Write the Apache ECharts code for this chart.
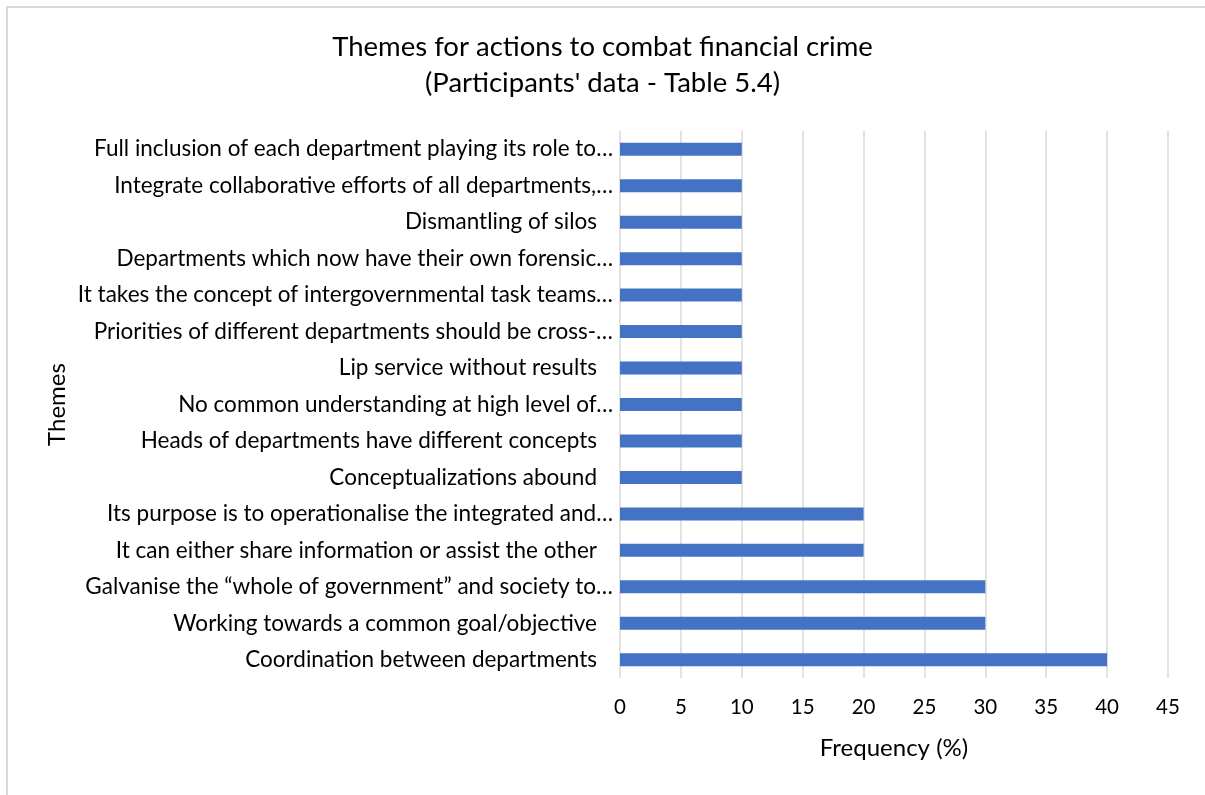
<!DOCTYPE html>
<html>
<head>
<meta charset="utf-8">
<script src="https://cdn.jsdelivr.net/npm/echarts@6/dist/echarts.min.js"></script>
<style>
  html, body { margin: 0; padding: 0; background: #ffffff; }
  #frame { position: absolute; left: 6px; top: 6px; width: 1205px; height: 795px; border: 2px solid #d9d9d9; box-sizing: border-box; }
  #chart { position: absolute; left: 0; top: 0; width: 1205px; height: 795px; }
</style>
</head>
<body>
<div id="frame"></div>
<div id="chart"></div>
<script>
// Themes listed bottom-to-top (category axis order)
const themes = [
  "Coordination between departments",
  "Working towards a common goal/objective",
  "Galvanise the \u201cwhole of government\u201d and society to\u2026",
  "It can either share information or assist the other",
  "Its purpose is to operationalise the integrated and\u2026",
  "Conceptualizations abound",
  "Heads of departments have different concepts",
  "No common understanding at high level of\u2026",
  "Lip service without results",
  "Priorities of different departments should be cross-\u2026",
  "It takes the concept of intergovernmental task teams\u2026",
  "Departments which now have their own forensic\u2026",
  "Dismantling of silos",
  "Integrate collaborative efforts of all departments,\u2026",
  "Full inclusion of each department playing its role to\u2026"
];
const frequency = [40, 30, 30, 20, 20, 10, 10, 10, 10, 10, 10, 10, 10, 10, 10];
const xTicks = [0, 5, 10, 15, 20, 25, 30, 35, 40, 45];

const FONT = 'Lato, "Open Sans", sans-serif';
const chart = echarts.init(document.getElementById('chart'), null, { renderer: 'canvas' });

chart.setOption({
  animation: false,
  title: {
    text: "Themes for actions to combat financial crime\n(Participants' data - Table 5.4)",
    left: 'center',
    top: 24,
    textStyle: { fontFamily: FONT, fontSize: 27.5, fontWeight: 'normal', color: '#000', lineHeight: 36 }
  },
  grid: { left: 620, right: 37, top: 131, bottom: 117, containLabel: false },
  xAxis: {
    type: 'value',
    min: xTicks[0],
    max: xTicks[xTicks.length - 1],
    interval: 5,
    name: 'Frequency (%)',
    nameLocation: 'middle',
    nameGap: 58,
    nameTextStyle: { fontFamily: FONT, fontSize: 24, color: '#000' },
    axisLine: { show: false },
    axisTick: { show: false },
    axisLabel: { fontFamily: FONT, fontSize: 20.5, color: '#000', margin: 19 },
    splitLine: { show: true, lineStyle: { color: '#d9d9d9', width: 1.5 } }
  },
  yAxis: {
    type: 'category',
    data: themes,
    name: 'Themes',
    nameLocation: 'middle',
    nameGap: 551,
    nameRotate: 90,
    nameTextStyle: { fontFamily: FONT, fontSize: 24, color: '#000' },
    axisLine: { show: false },
    axisTick: { show: false },
    axisLabel: {
      margin: 7,
      formatter: function (v) {
        return v.endsWith('\u2026') ? '{e|' + v + '}' : '{n|' + v + '}';
      },
      rich: {
        e: { fontFamily: FONT, fontSize: 22.5, color: '#000' },
        n: { fontFamily: FONT, fontSize: 22.5, color: '#000', padding: [0, 16, 0, 0] }
      }
    }
  },
  series: [{
    type: 'bar',
    data: frequency,
    barWidth: 13,
    itemStyle: { color: '#4472C4' }
  }]
});
</script>
</body>
</html>
